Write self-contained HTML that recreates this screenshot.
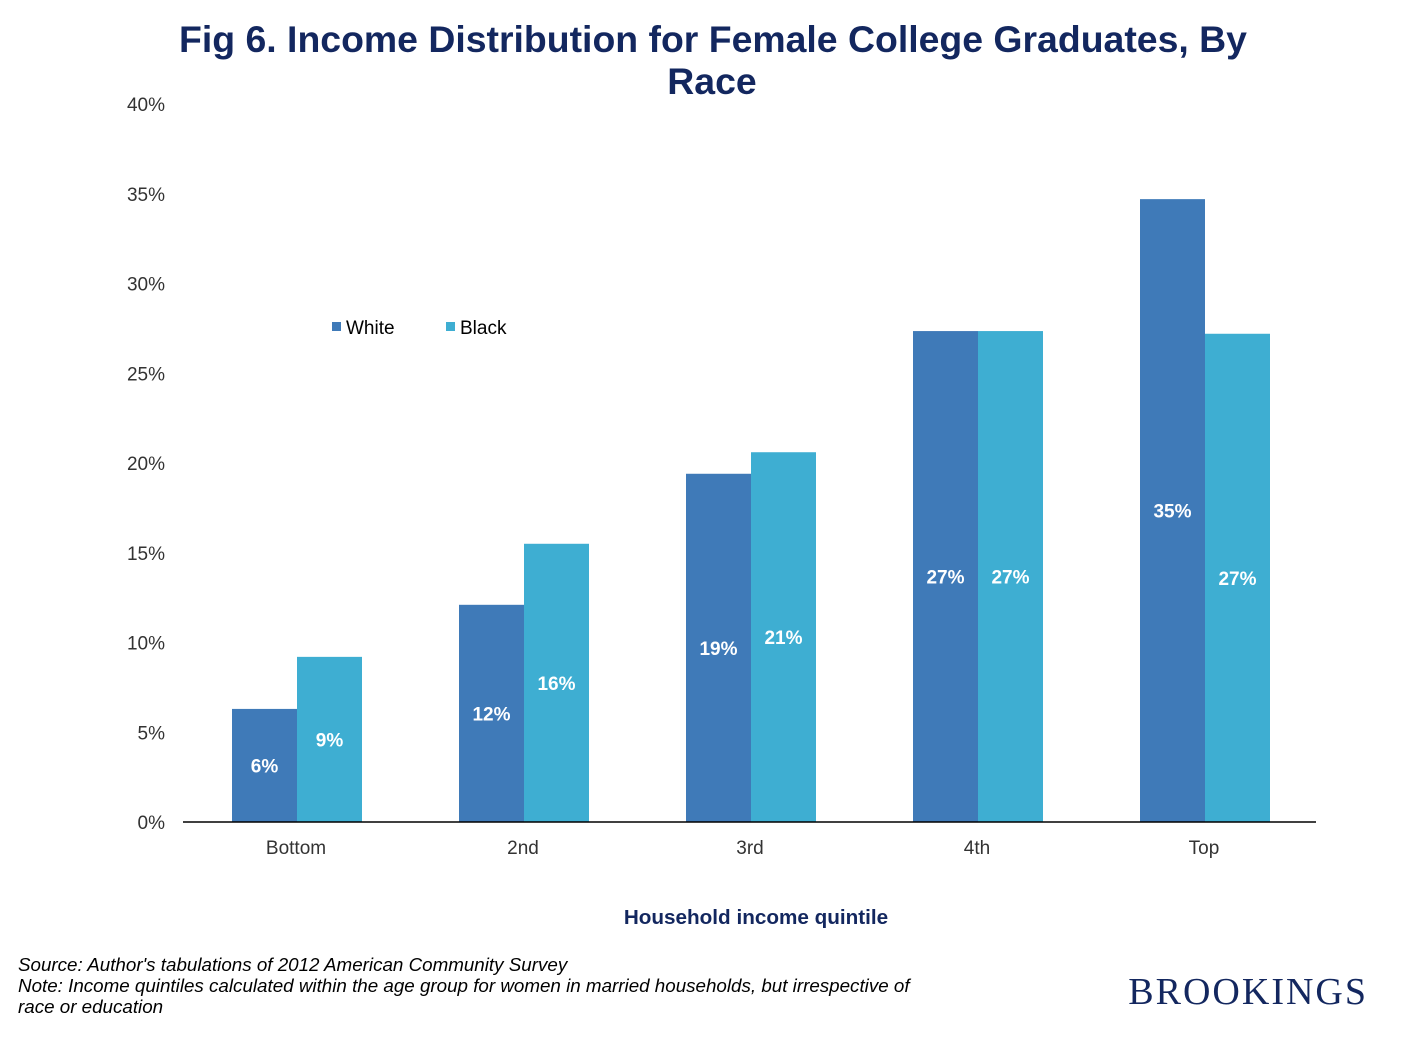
<!DOCTYPE html>
<html><head><meta charset="utf-8"><style>
body{margin:0;background:#fff;width:1423px;height:1033px;overflow:hidden;font-family:"Liberation Sans",sans-serif}
</style></head><body>
<svg id="c" width="1423" height="1033" xmlns="http://www.w3.org/2000/svg" font-family="Liberation Sans, sans-serif">
<text x="713" y="52" text-anchor="middle" font-size="37.4" font-weight="bold" fill="#13275f">Fig 6. Income Distribution for Female College Graduates, By</text>
<text x="712" y="94" text-anchor="middle" font-size="37.4" font-weight="bold" fill="#13275f">Race</text>
<g id="yaxis"></g>
<g id="bars"></g>
<line x1="183" y1="822" x2="1316" y2="822" stroke="#000" stroke-width="1.5"/>
<g id="xaxis"></g>
<g>
<rect x="332" y="322" width="9" height="9" fill="#3f7ab8"/>
<text x="346" y="334" font-size="19" fill="#000">White</text>
<rect x="446" y="322" width="9" height="9" fill="#3eaed2"/>
<text x="460" y="334" font-size="19" fill="#000">Black</text>
</g>
<text x="756" y="924" text-anchor="middle" font-size="20.7" font-weight="bold" fill="#13275f">Household income quintile</text>
<text x="18" y="971" font-size="18.8" font-style="italic" fill="#000">Source: Author's tabulations of 2012 American Community Survey</text>
<text x="18" y="992" font-size="18.8" font-style="italic" fill="#000">Note: Income quintiles calculated within the age group for women in married households, but irrespective of</text>
<text x="18" y="1013" font-size="18.8" font-style="italic" fill="#000">race or education</text>
<text x="1368" y="1004" text-anchor="end" font-size="38" font-family="Liberation Serif, serif" fill="#13275f" letter-spacing="2">BROOKINGS</text>
</svg>
<script>
const categories=["Bottom","2nd","3rd","4th","Top"];
const white=[6.3,12.1,19.4,27.35,34.7];
const black=[9.2,15.5,20.6,27.35,27.2];
const whiteLabels=["6%","12%","19%","27%","35%"];
const blackLabels=["9%","16%","21%","27%","27%"];
const yTicks=[0,5,10,15,20,25,30,35,40];
const NS="http://www.w3.org/2000/svg";
const y0=822,ppu=(822-104)/40;
const yS=v=>y0-v*ppu;
const xC=i=>297+i*227;
const bw=65;
function mk(t,a,p){const e=document.createElementNS(NS,t);for(const k in a)e.setAttribute(k,a[k]);p.appendChild(e);return e;}
const ya=document.getElementById('yaxis'),bg=document.getElementById('bars'),xa=document.getElementById('xaxis');
yTicks.forEach(v=>{const t=mk('text',{x:165,y:yS(v)+7,'text-anchor':'end','font-size':19,fill:'#333'},ya);t.textContent=v+'%';

});
categories.forEach((c,i)=>{
 const t=mk('text',{x:xC(i)-1,y:854,'text-anchor':'middle','font-size':19,fill:'#333'},xa);t.textContent=c;
 
 
 [[white,whiteLabels,'#3f7ab8',-bw,'white'],[black,blackLabels,'#3eaed2',0,'black']].forEach(([arr,lab,col,off,nm])=>{
  const x=xC(i)+off,yt=yS(arr[i]);
  const r=mk('rect',{x:x,y:yt,width:bw,height:y0-yt,fill:col},bg);
  
  
  const l=mk('text',{x:x+bw/2,y:(yt+y0)/2+7,'text-anchor':'middle','font-size':19,'font-weight':'bold',fill:'#fff'},bg);l.textContent=lab[i];
  
  
 });
});
</script>
</body></html>
